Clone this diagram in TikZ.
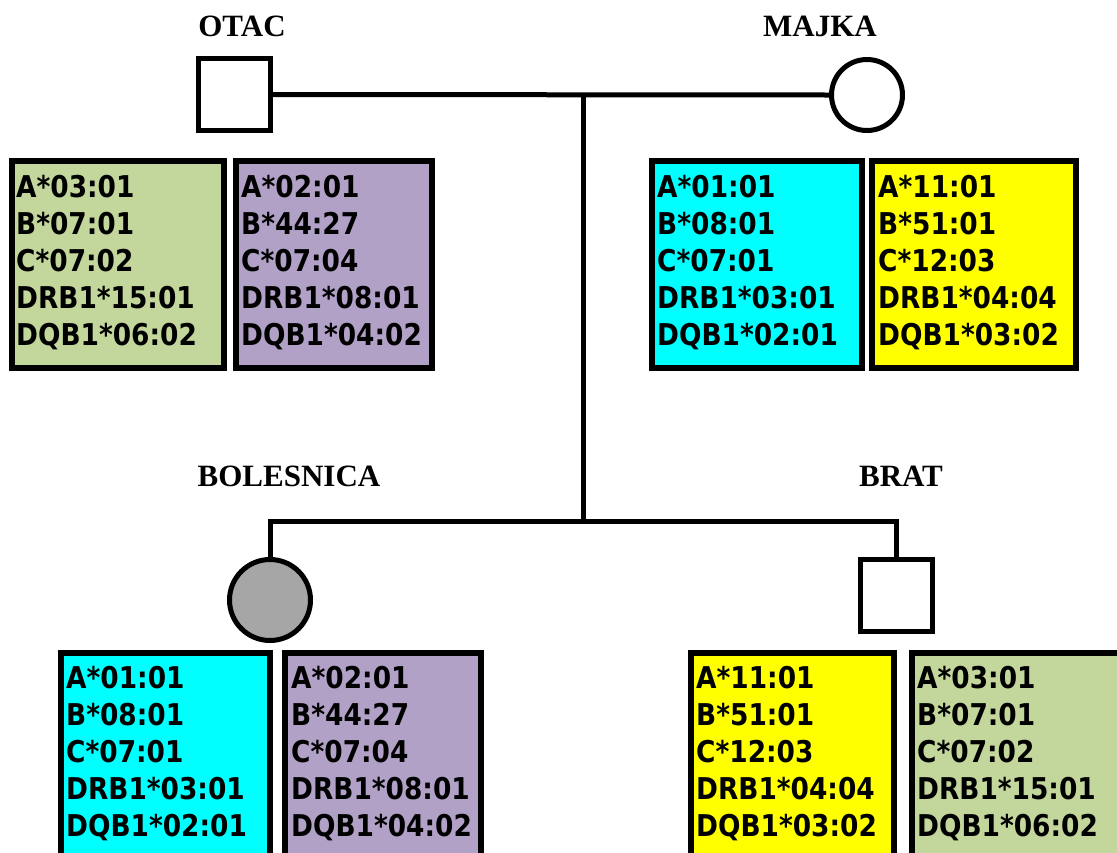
\documentclass[tikz,border=0pt]{standalone}
\usepackage{fontspec}
\setmainfont{Liberation Serif}
\newfontfamily\hlafont[FakeStretch=0.88]{DejaVu Sans}
\definecolor{hgreen}{HTML}{C3D69B}
\definecolor{hpurple}{HTML}{B2A1C7}
\definecolor{hcyan}{HTML}{00FFFF}
\definecolor{hyellow}{HTML}{FFFF00}
\definecolor{pgray}{HTML}{A6A6A6}
\newcommand{\hlalines}[5]{\rule{0pt}{29pt}#1\\#2\\#3\\#4\\#5}
\tikzset{
  hlabox/.style={draw, line width=6pt, inner sep=0pt, minimum height=#1},
  hlatext/.style={anchor=north west, inner sep=0pt, align=left,
    font={\hlafont\bfseries\fontsize{30}{37}\selectfont}},
  male/.style={draw, line width=5pt, rectangle, minimum size=72pt, inner sep=0pt, fill=white},
  female/.style={draw, line width=5pt, circle, inner sep=0pt, fill=white},
  pedline/.style={line width=5pt},
  who/.style={font={\bfseries\fontsize{31}{36}\selectfont}, anchor=base, inner sep=0pt}
}
\begin{document}
\begin{tikzpicture}[x=1pt,y=-1pt]
\useasboundingbox (0,0) rectangle (1117,852);
\clip (0,0) rectangle (1117,852);
% people
\node[male] (otac) at (234.5,94.5) {};
\node[female, minimum size=71pt] (majka) at (867,95) {};
\node[female, minimum size=81pt, fill=pgray] (bol) at (270,600) {};
\node[male] (brat) at (896,595.5) {};
% labels
\node[who] (lotac) at (242,36) {OTAC};
\node[who] (lmajka) at (820,36) {MAJKA};
\node[who] (lbol) at (289,486) {BOLESNICA};
\node[who] (lbrat) at (901,486) {BRAT};
% lines
\coordinate (mid) at (583,95);
\coordinate (sib) at (583,521);
\draw[pedline] (otac.east) -- (majka.west);
\draw[pedline] (mid) -- (sib);
\draw[pedline, line join=miter] (bol.north) -- (bol.north |- sib) -- (brat.north |- sib) -- (brat.north);
% top boxes
\node[hlabox=207pt, minimum width=212pt, fill=hgreen] (oa) at (118,264.5) {};
\node[hlabox=207pt, minimum width=196pt, fill=hpurple] (ob) at (334,264.5) {};
\node[hlabox=207pt, minimum width=210pt, fill=hcyan] (ma) at (757,264.5) {};
\node[hlabox=207pt, minimum width=204pt, fill=hyellow] (mb) at (974,264.5) {};
\node[hlatext] (oat) at (16,168) {\hlalines{A*03:01}{B*07:01}{C*07:02}{DRB1*15:01}{DQB1*06:02}};
\node[hlatext] (obt) at (241,168) {\hlalines{A*02:01}{B*44:27}{C*07:04}{DRB1*08:01}{DQB1*04:02}};
\node[hlatext] (mat) at (657,168) {\hlalines{A*01:01}{B*08:01}{C*07:01}{DRB1*03:01}{DQB1*02:01}};
\node[hlatext] (mbt) at (878,168) {\hlalines{A*11:01}{B*51:01}{C*12:03}{DRB1*04:04}{DQB1*03:02}};
% bottom boxes
\node[hlabox=247pt, minimum width=209pt, fill=hcyan] (ba) at (165.5,776.5) {};
\node[hlabox=247pt, minimum width=196pt, fill=hpurple] (bb) at (383,776.5) {};
\node[hlabox=247pt, minimum width=203pt, fill=hyellow] (ra) at (792.5,776.5) {};
\node[hlabox=247pt, minimum width=218pt, fill=hgreen] (rb) at (1021,776.5) {};
\node[hlatext] (bat) at (66,659) {\hlalines{A*01:01}{B*08:01}{C*07:01}{DRB1*03:01}{DQB1*02:01}};
\node[hlatext] (bbt) at (291,659) {\hlalines{A*02:01}{B*44:27}{C*07:04}{DRB1*08:01}{DQB1*04:02}};
\node[hlatext] (rat) at (696,659) {\hlalines{A*11:01}{B*51:01}{C*12:03}{DRB1*04:04}{DQB1*03:02}};
\node[hlatext] (rbt) at (917,659) {\hlalines{A*03:01}{B*07:01}{C*07:02}{DRB1*15:01}{DQB1*06:02}};
\end{tikzpicture}
\end{document}
